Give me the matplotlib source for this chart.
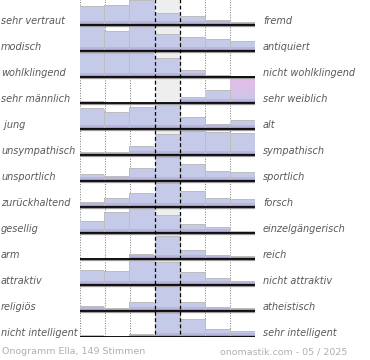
import matplotlib
matplotlib.use('Agg')
import matplotlib.pyplot as plt
import matplotlib.transforms as mtransforms
import numpy as np
from matplotlib.colors import to_rgb

left_labels = ['sehr vertraut', 'modisch', 'wohlklingend', 'sehr männlich', ' jung',
               'unsympathisch', 'unsportlich', 'zurückhaltend', 'gesellig', 'arm',
               'attraktiv', 'religiös', 'nicht intelligent']
right_labels = ['fremd', 'antiquiert', 'nicht wohlklingend', 'sehr weiblich', 'alt',
                'sympathisch', 'sportlich', 'forsch', 'einzelgängerisch', 'reich',
                'nicht attraktiv', 'atheistisch', 'sehr intelligent']

# bar heights per row, 7 steps, in % of the full bar height
votes = [
    [71, 77, 96, 44, 33, 17, 7],
    [97, 77, 99, 65, 53, 46, 37],
    [92, 92, 92, 72, 25, 4, 2],
    [6, 0, 0, 0, 20, 49, 100],
    [79, 63, 83, 99, 43, 16, 33],
    [9, 10, 32, 80, 92, 88, 86],
    [25, 16, 49, 92, 63, 36, 32],
    [17, 31, 51, 91, 61, 31, 27],
    [45, 80, 96, 69, 32, 19, 5],
    [0, 2, 17, 90, 31, 11, 7],
    [57, 53, 100, 87, 49, 24, 11],
    [17, 8, 33, 95, 33, 13, 8],
    [4, 0, 7, 94, 70, 30, 20],
]
pink_cells = [(3, 6)]

footer_left = 'Onogramm Ella, 149 Stimmen'
footer_right = 'onomastik.com - 05 / 2025'

W, H = 370, 360
BAR = '#c5cae9'
PINK = '#e1bee7'
SHADOW = '#bdbdbd'
TEXT = '#595959'

fig = plt.figure(figsize=(W / 100, H / 100), dpi=100)
ax = fig.add_axes([80 / W, (H - 337) / H, 175 / W, 338 / H])

nrows = len(votes)
ncols = len(votes[0])
px = ncols / 175.0   # one pixel in x data units
py = nrows / 338.0   # one pixel in y data units
full = 25 * py       # full bar height

ax.axvspan(3, 4, color='#eeeeee', zorder=0, lw=0)
for x in [0, 1, 2, 5, 6, 7]:
    ax.plot([x, x], [0, nrows], color='#777777', lw=0.7, ls=(0, (1, 1.6)), zorder=1)


def draw_bar(i, j, h, z, side):
    base = i + 1
    ax.bar(j + side * px, h + py, width=1, bottom=base - h - py, align='edge',
           color=SHADOW, lw=0, zorder=z)
    if (i, j) in pink_cells:
        c1, c2 = np.array(to_rgb(PINK)), np.array(to_rgb(BAR))
        t = np.linspace(0, 1, 40)[:, None, None] ** 1.5
        grad = (c1 * (1 - t) + c2 * t) * np.ones((40, 2, 3))
        ax.imshow(grad, extent=(j, j + 1, base, base - h), origin='upper',
                  aspect='auto', zorder=z + 0.1, interpolation='bilinear')
    else:
        ax.bar(j, h, width=1, bottom=base - h, align='edge', color=BAR, lw=0,
               zorder=z + 0.1)
    ax.bar(j, min(h, 4 * py), width=1, bottom=base - min(h, 4 * py), align='edge',
           color='#bbb6de', lw=0, zorder=z + 0.2)
    ax.bar(j, min(h, 2 * py), width=1, bottom=base - min(h, 2 * py), align='edge',
           color='#a898c8', lw=0, zorder=z + 0.3)


for i, row in enumerate(votes):
    z = 2
    for j in [0, 1, 2]:
        if row[j] > 0:
            draw_bar(i, j, row[j] / 100 * full, z, -1)
        z += 0.5
    for j in [6, 5, 4, 3]:
        if row[j] > 0:
            draw_bar(i, j, row[j] / 100 * full, z, 1)
        z += 0.5
    ax.plot([0, 7], [i + 1 + 1.4 * py, i + 1 + 1.4 * py], color='#9a9a9a', lw=0.9, zorder=8)
    ax.plot([0, 7], [i + 1, i + 1], color='black', lw=1.3, zorder=9)

for x in [3, 4]:
    ax.plot([x, x], [0, nrows], color='black', lw=0.9, ls=(0, (3, 2)), zorder=10)

trans = mtransforms.blended_transform_factory(fig.transFigure, ax.transData)
for i in range(nrows):
    y = i + 1 - 1.3 * py
    ax.text(1 / W, y, left_labels[i], transform=trans, ha='left', va='baseline',
            fontsize=7, style='italic', color=TEXT)
    ax.text(263 / W, y, right_labels[i], transform=trans, ha='left', va='baseline',
            fontsize=7, style='italic', color=TEXT)

fig.text(2 / W, 1 - 352 / H, footer_left, ha='left', va='center', fontsize=6.8,
         color='#b0b0b0')
fig.text(347 / W, 1 - 352 / H, footer_right, ha='right', va='center', fontsize=6.8,
         color='#b0b0b0')

ax.set_xlim(0, ncols)
ax.set_ylim(nrows, 0)
ax.axis('off')

fig.savefig('out.png', dpi=100)
